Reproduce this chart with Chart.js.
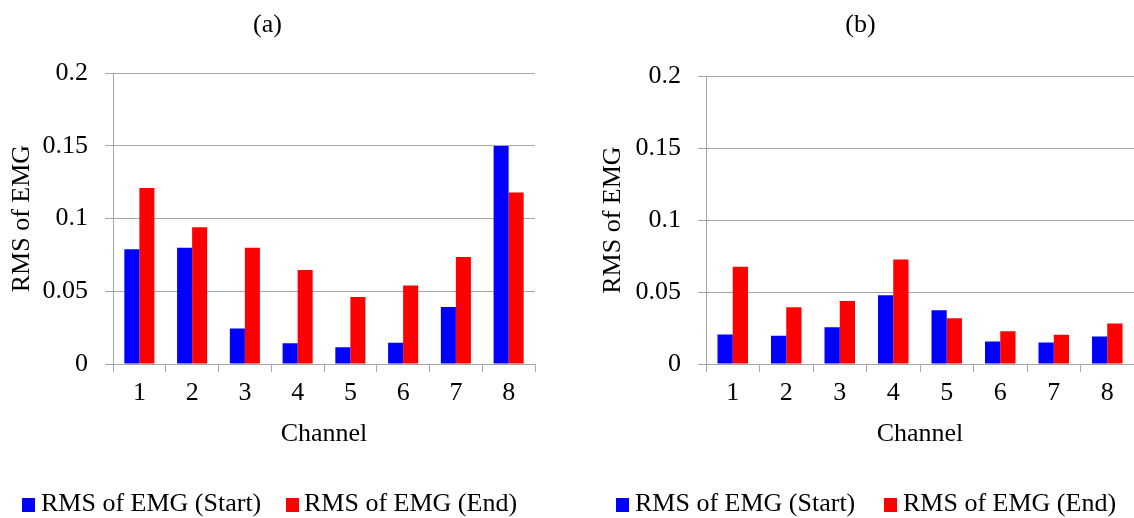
<!DOCTYPE html>
<html>
<head>
<meta charset="utf-8">
<script src="https://cdn.jsdelivr.net/npm/chart.js@4/dist/chart.umd.min.js"></script>
<style>
  body { margin: 0; background: #fff; width: 1134px; height: 518px; position: relative; overflow: hidden; }
  canvas { position: absolute; top: 0; }
  #chartA { left: 0; }
  #chartB { left: 567px; }
  .key { position: absolute; font-family: "Liberation Serif", "Times New Roman", serif; font-size: 26px; color: #000; white-space: nowrap; line-height: 1; }
  .box { position: absolute; width: 13px; height: 14px; }
</style>
</head>
<body>
<canvas id="chartA" width="567" height="518"></canvas>
<canvas id="chartB" width="567" height="518"></canvas>

<div class="box" style="left:22px; top:498px; background:#0000ff"></div>
<div class="key" style="left:41px; top:490px">RMS of EMG (Start)</div>
<div class="box" style="left:286px; top:498px; background:#ff0000"></div>
<div class="key" style="left:304px; top:490px">RMS of EMG (End)</div>

<div class="box" style="left:616px; top:498px; background:#0000ff"></div>
<div class="key" style="left:635px; top:490px">RMS of EMG (Start)</div>
<div class="box" style="left:884px; top:498px; background:#ff0000"></div>
<div class="key" style="left:903px; top:490px">RMS of EMG (End)</div>

<script>
// channel numbers on the x axis
const channels = ['1', '2', '3', '4', '5', '6', '7', '8'];

// (a) values
const startA = [0.079, 0.080, 0.0245, 0.0142, 0.0115, 0.0147, 0.0392, 0.150];
const endA = [0.121, 0.094, 0.080, 0.0647, 0.046, 0.054, 0.0736, 0.118];

// (b)
const startB = [0.0205, 0.0196, 0.0256, 0.0478, 0.0374, 0.0157, 0.015, 0.0191];
const endB = [0.0676, 0.0394, 0.0438, 0.0727, 0.0318, 0.0228, 0.0203, 0.0281];

const yTicks = [0, 0.05, 0.1, 0.15, 0.2];
const yTickLabels = ['0', '0.05', '0.1', '0.15', '0.2'];

const serif = '"Liberation Serif", "Times New Roman", serif';
const gridGray = '#a6a6a6';

function makeChart(id, title, start, end, cfg) {
    const ctx = document.getElementById(id).getContext('2d');
    return new Chart(ctx, {
        type: 'bar',
        data: {
            labels: channels,
            datasets: [
                { label: 'RMS of EMG (Start)', data: start, backgroundColor: '#0000ff' },
                { label: 'RMS of EMG (End)', data: end, backgroundColor: '#ff0000' }
            ]
        },
        options: {
            responsive: false,
            animation: false,
            categoryPercentage: 0.57,
            barPercentage: 1.0,
            layout: { padding: { left: cfg.padLeft, right: cfg.padRight, top: 0, bottom: 64 } },
            plugins: {
                legend: { display: false },
                tooltip: { enabled: false },
                title: {
                    display: true,
                    text: title,
                    color: '#000',
                    font: { family: serif, size: 26, weight: 'normal' },
                    padding: { top: 10, bottom: cfg.titleBottom }
                }
            },
            scales: {
                x: {
                    grid: { display: true, drawOnChartArea: false, drawTicks: true, tickLength: 8, color: gridGray },
                    border: { color: gridGray },
                    ticks: { color: '#000', font: { family: serif, size: 26 }, padding: 6 },
                    title: {
                        display: true, text: 'Channel', color: '#000',
                        font: { family: serif, size: 26 }, padding: { top: 0, bottom: 4 }
                    },
                    afterFit: s => { s.height = 90; }
                },
                y: {
                    min: 0,
                    max: 0.2,
                    afterBuildTicks: s => { s.ticks = yTicks.map(v => ({ value: v })); },
                    grid: { color: gridGray, tickLength: 8 },
                    border: { color: gridGray },
                    ticks: {
                        color: '#000', font: { family: serif, size: 26 }, padding: 17,
                        callback: (v, i) => yTickLabels[i]
                    },
                    title: {
                        display: true, text: 'RMS of EMG', color: '#000',
                        font: { family: serif, size: 26 }, padding: { top: cfg.yTitlePad, bottom: 0 }
                    },
                    afterFit: s => { s.width = cfg.yWidth; }
                }
            }
        }
    });
}

makeChart('chartA', '(a)', startA, endA, { padLeft: 0, padRight: 32, yWidth: 113, titleBottom: 32, yTitlePad: 7 });
makeChart('chartB', '(b)', startB, endB, { padLeft: 20, padRight: 0, yWidth: 119, titleBottom: 35, yTitlePad: 11 });
</script>
</body>
</html>
